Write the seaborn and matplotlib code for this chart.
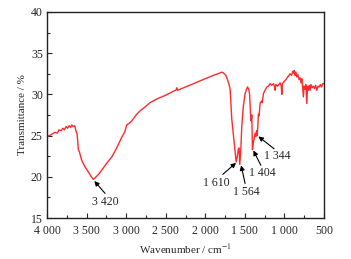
"""FTIR spectrum with annotated absorption bands."""

import matplotlib.pyplot as plt
import pandas as pd
import seaborn as sns
from matplotlib.ticker import MultipleLocator, FuncFormatter

WAVENUMBER = [
    4000, 3950, 3900, 3870, 3850, 3820, 3800, 3780, 3760, 3740, 3720, 3700,
    3688, 3670, 3650, 3635, 3620, 3604, 3590, 3561, 3520, 3478, 3440, 3415,
    3390, 3350, 3309, 3250, 3182, 3120, 3056, 3020, 2992, 2960, 2929, 2866,
    2824, 2783, 2698, 2600, 2500, 2400, 2370, 2360, 2350, 2300, 2200, 2100,
    2000, 1900, 1813, 1790, 1771, 1740, 1720, 1700, 1686, 1665, 1645, 1625,
    1610, 1595, 1582, 1573, 1564, 1550, 1539, 1520, 1497, 1480, 1466, 1450,
    1440, 1430, 1421, 1412, 1404, 1395, 1385, 1370, 1360, 1350, 1344, 1336,
    1329, 1320, 1307, 1290, 1280, 1265, 1245, 1222, 1200, 1181, 1160, 1138,
    1125, 1118, 1108, 1085, 1070, 1054, 1040, 1033, 1025, 1000, 980, 960,
    949, 930, 910, 895, 886, 876, 865, 855, 843, 830, 815, 802, 790, 780,
    770, 760, 752, 740, 730, 717, 708, 695, 685, 675, 665, 650, 635, 620,
    605, 590, 575, 560, 545, 530, 515, 500,
]
TRANSMITTANCE = [
    24.9, 25.1, 25.4, 25.3, 25.7, 25.6, 25.9, 25.7, 26.1, 25.9, 26.2, 26.0,
    26.3, 26.1, 26.2, 25.6, 25.2, 23.3, 23.0, 22.0, 21.2, 20.6, 20.0, 19.7,
    19.9, 20.3, 20.8, 21.6, 22.4, 23.5, 24.8, 25.4, 26.3, 26.5, 26.8, 27.6,
    28.0, 28.3, 29.0, 29.5, 29.9, 30.4, 30.5, 30.8, 30.5, 30.7, 31.1, 31.5,
    31.9, 32.3, 32.6, 32.7, 32.6, 32.3, 31.8, 31.2, 30.6, 27.0, 25.0, 23.2,
    21.8, 22.5, 23.4, 23.5, 21.5, 23.5, 26.1, 28.5, 30.1, 30.6, 30.9, 30.6,
    30.0, 28.0, 26.8, 27.5, 23.3, 24.0, 24.5, 25.3, 24.9, 25.6, 25.0, 26.2,
    27.6, 27.4, 28.9, 29.2, 29.0, 30.1, 30.5, 30.9, 31.0, 31.3, 31.1, 31.3,
    30.9, 30.5, 31.2, 31.0, 31.2, 31.4, 31.0, 30.0, 31.3, 31.6, 31.8, 32.1,
    32.2, 32.5, 32.3, 32.8, 32.6, 32.9, 32.3, 32.7, 32.1, 32.4, 31.8, 32.0,
    31.4, 31.9, 31.0, 29.7, 31.0, 30.6, 31.2, 28.9, 31.0, 30.5, 31.1, 30.5,
    31.2, 30.8, 31.0, 30.7, 31.1, 30.5, 31.0, 30.9, 31.2, 30.9, 31.3, 31.3,
]

# label, text position (wn, T), arrow tail and tip (wn, T)
PEAK_LABELS = ["3 420", "1 610", "1 564", "1 404", "1 344"]
LABEL_POS = [(3267, 17.0), (1855, 19.3), (1476, 18.2), (1273, 20.5), (1089, 22.5)]
ARROW_TAIL = [(3267, 18.0), (1779, 20.3), (1497, 19.2), (1298, 21.4), (1130, 23.4)]
ARROW_TIP = [(3402, 19.5), (1611, 21.7), (1547, 21.4), (1392, 23.2), (1329, 24.9)]


def thousands(v, _pos):
    v = int(round(v))
    return f"{v // 1000} {v % 1000:03d}" if v >= 1000 else str(v)


def main() -> None:
    df = pd.DataFrame({"wn": WAVENUMBER, "T": TRANSMITTANCE})

    sns.set_style("ticks")
    plt.rcParams["font.family"] = ["Liberation Serif", "DejaVu Serif"]
    plt.rcParams["mathtext.fontset"] = "stix"

    fig = plt.figure(figsize=(3.51, 2.59), dpi=100)
    ax = fig.add_axes([0.134, 0.158, 0.789, 0.796])

    sns.lineplot(data=df, x="wn", y="T", ax=ax, color="#ff2a2a", linewidth=1.0)

    ax.set_xlim(4000, 500)
    ax.set_ylim(15, 40)
    ax.xaxis.set_major_locator(MultipleLocator(500))
    ax.xaxis.set_minor_locator(MultipleLocator(250))
    ax.yaxis.set_major_locator(MultipleLocator(5))
    ax.yaxis.set_minor_locator(MultipleLocator(2.5))
    ax.xaxis.set_major_formatter(FuncFormatter(thousands))
    ax.tick_params(which="both", direction="in", labelsize=8.5, width=0.8)
    ax.tick_params(which="major", length=3.5)
    ax.tick_params(axis="x", which="major", pad=5)
    ax.tick_params(axis="y", which="major", pad=3)
    ax.tick_params(which="minor", length=2)
    for spine in ax.spines.values():
        spine.set_linewidth(1.0)
        spine.set_color("#222222")

    ax.set_xlabel("Wavenumber / cm$^{-1}$", fontsize=8, labelpad=4)
    ax.set_ylabel("Transmittance / %", fontsize=8, labelpad=3)

    for label, pos, tail, tip in zip(PEAK_LABELS, LABEL_POS, ARROW_TAIL, ARROW_TIP):
        ax.text(pos[0], pos[1], label, fontsize=8.5, ha="center", va="center")
        ax.annotate(
            "", xy=tip, xytext=tail,
            arrowprops=dict(arrowstyle="-|>", color="black", lw=0.8,
                            mutation_scale=7, shrinkA=0, shrinkB=0),
        )

    fig.savefig("out.png", dpi=100)


if __name__ == "__main__":
    main()
